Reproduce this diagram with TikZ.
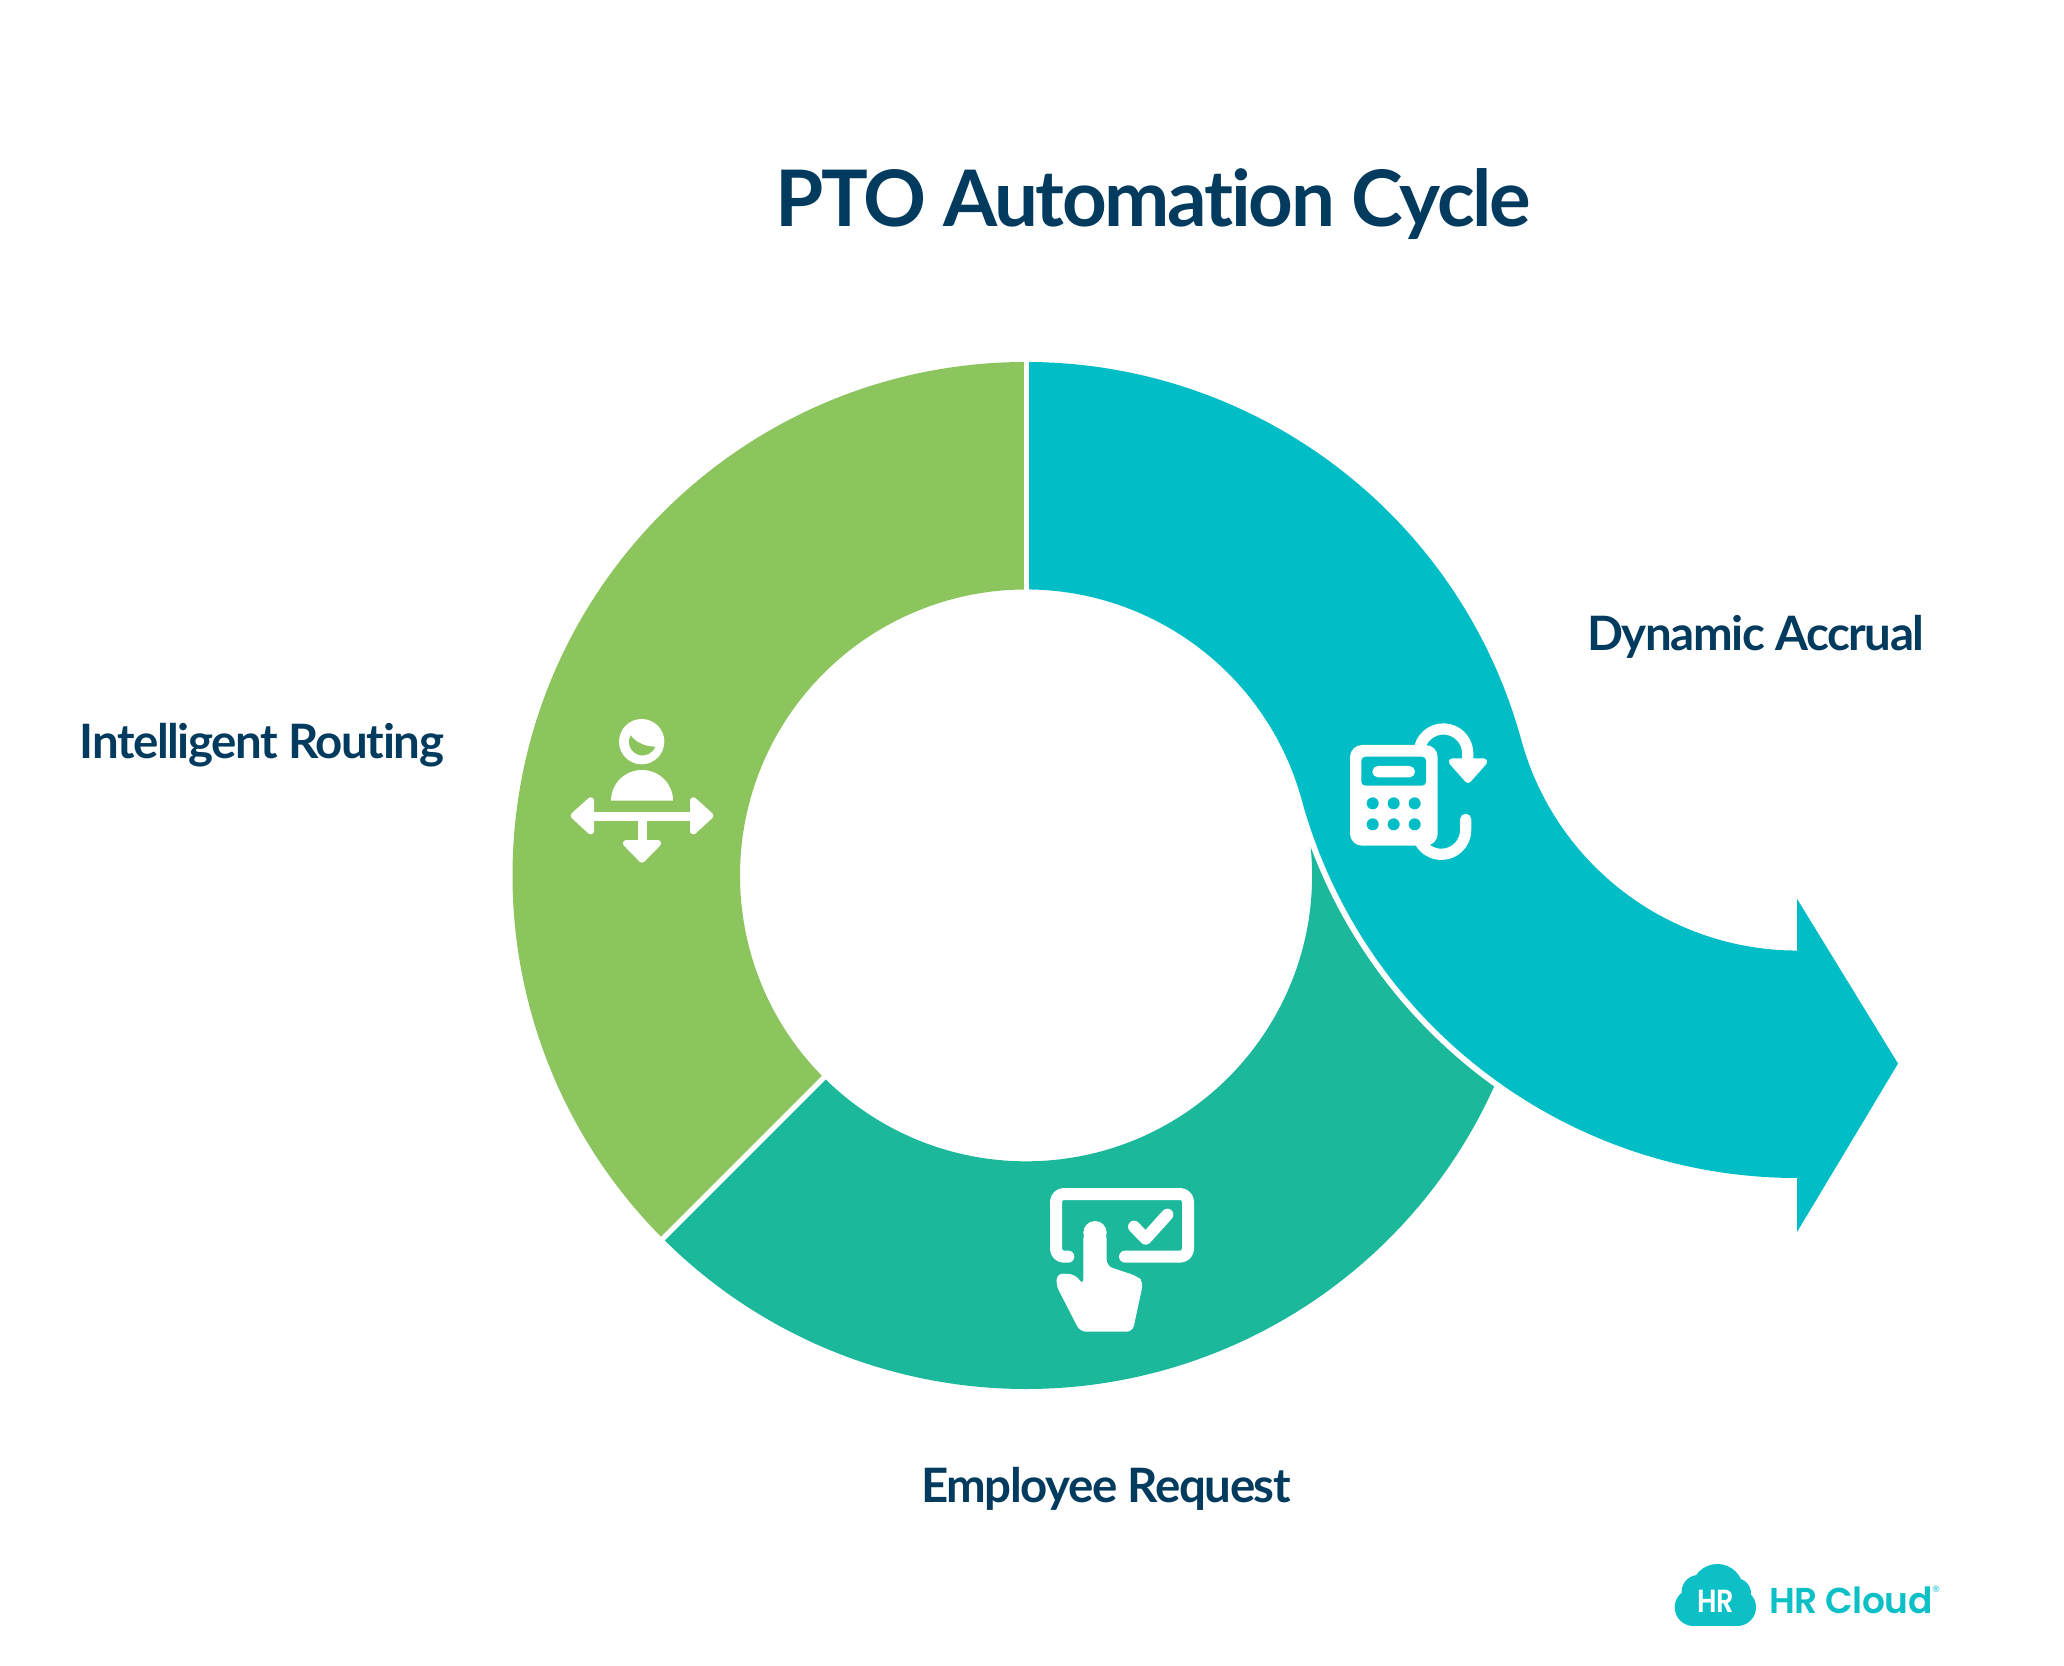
\documentclass[tikz,border=0pt]{standalone}
\usepackage{fontspec}
\usetikzlibrary{calc}
\setmainfont[Ligatures=NoCommon]{Lato}
\newfontfamily\titlefont[Ligatures=NoCommon,LetterSpace=-3]{Lato}
\newfontfamily\labelfont[Ligatures=NoCommon,LetterSpace=-3]{Lato}
\newfontfamily\logofont[LetterSpace=-1.5]{Poppins SemiBold}
\definecolor{navy}{HTML}{033B5F}
\definecolor{cyanseg}{HTML}{01BDC5}
\definecolor{greenseg}{HTML}{8CC55E}
\definecolor{tealseg}{HTML}{1CB89C}
\definecolor{logocol}{HTML}{0CC0C6}
\tikzset{
  titletext/.style={text=navy,font=\titlefont\fontsize{39}{44}\selectfont\bfseries,inner sep=0pt},
  labeltext/.style={text=navy,font=\labelfont\fontsize{23.7}{28}\selectfont\bfseries,inner sep=0pt},
  iconfill/.style={fill=white,draw=white,line join=round,line width=3.33pt},
  iconline/.style={draw=white,line cap=round,line join=round},
  gapline/.style={draw=white,line width=2.5pt},
}
\begin{document}
\begin{tikzpicture}[x=0.5pt,y=0.5pt]
\useasboundingbox (0,0) rectangle (2064,1665);
\fill[white] (0,0) rectangle (2064,1665);
% geometry: ring centre C, second bend centre Q
\coordinate (C) at (1026,789.5);
\coordinate (Q) at (1797,1000.3);
% green segment
\fill[greenseg] ($(C)+(90:513.5)$) arc[start angle=90,end angle=225,radius=513.5]
  -- ($(C)+(225:286)$) arc[start angle=225,end angle=90,radius=286] -- cycle;
% teal segment
\fill[tealseg] ($(C)+(225:513.5)$) arc[start angle=225,end angle=335.73,radius=513.5]
  arc[start angle=234.33,end angle=200.57,radius=519.5]
  arc[start angle=5.68,end angle=-135,radius=286] -- cycle;
\draw[gapline] ($(C)+(225:280)$) -- ($(C)+(225:520)$);
% cyan arrow
\fill[cyanseg] ($(C)+(90:513.5)$) arc[start angle=90,end angle=15.3,radius=513.5]
  arc[start angle=195.3,end angle=270,radius=286]
  -- ++(0,51.5) -- (1898,601.4) -- (1797,433) -- (1797,487)
  arc[start angle=270,end angle=195.3,radius=513.5]
  arc[start angle=15.3,end angle=90,radius=286] -- cycle;
\draw[gapline] ($(C)+(90:280)$) -- ($(C)+(90:520)$);
% calculator icon
\begin{scope}[shift={(1300,965)},x=0.16667pt,y=-0.16667pt]
  \fill[white,rounded corners=6pt] (150,135) rectangle (413,437);
  \fill[cyanseg,rounded corners=2pt] (184,257) -- (184,170) -- (378,170) -- (378,257) -- cycle;
  \fill[white,rounded corners=2.8pt] (217,198) rectangle (345,232);
  \foreach \px in {218,281,344}\foreach \py in {310,373}
    \fill[cyanseg] (\px,\py) circle[radius=18];
  \draw[iconline,line width=5.6pt,line cap=butt] (359.5,141) arc[start angle=195,end angle=360,radius=73] -- (503,190);
  \fill[iconfill] (456,185) -- (552,185) -- (504,239) -- cycle;
  \draw[iconline,line width=5.6pt] (497,358) -- (497,390) arc[start angle=0,end angle=150,radius=73];
\end{scope}
% person icon
\begin{scope}[shift={(550,965)},x=0.16667pt,y=-0.16667pt]
  \fill[white] (275,125) circle[radius=68];
  \fill[greenseg] (240,104) .. controls (258,128) and (285,140) .. (316,140)
     arc[start angle=21,end angle=210,radius=41] -- cycle;
  \fill[white] (183,302) arc[x radius=93,y radius=92,start angle=180,end angle=360] -- cycle;
  \fill[white] (130,335) rectangle (422,362);
  \fill[white] (263,362) rectangle (290,425);
  \fill[iconfill] (122,302) -- (122,393) -- (72,347) -- cycle;
  \fill[iconfill] (430,302) -- (430,393) -- (480,347) -- cycle;
  \fill[iconfill] (229,430) -- (323,430) -- (276,478) -- cycle;
\end{scope}
% touch icon
\begin{scope}[shift={(1030,495)},x=0.16667pt,y=-0.16667pt]
  \draw[iconline,line width=6pt,rounded corners=4pt] (115,260) -- (78,260) -- (78,72) -- (474,72) -- (474,260) -- (285,260);
  \draw[iconline,line width=6pt] (312,170) -- (347,206) -- (412,134);
  \fill[white,rounded corners=3pt] (160,188) -- (160,345) -- (135,313) -- (82,310) -- (78,345) -- (150,485) -- (308,485) -- (340,335) -- (320,318) -- (230,288) -- (230,188) -- cycle;
  \fill[white] (195,188) circle[radius=35];
\end{scope}
% logo
\begin{scope}[shift={(1660,115)},x=0.16667pt,y=-0.16667pt]
  \fill[logocol] (172,120) circle[radius=78];
  \fill[logocol] (115,125) circle[radius=50];
  \fill[logocol] (228,130) circle[radius=45];
  \fill[logocol] (100,172) circle[radius=56];
  \fill[logocol] (232,172) circle[radius=56];
  \fill[logocol] (100,150) rectangle (232,228);
\end{scope}
\node[text=white,font=\logofont\fontsize{16}{18}\selectfont,inner sep=0pt,xscale=.85] (hrmark) at (1716,64) {HR};
\node[text=logocol,font=\logofont\fontsize{18}{20}\selectfont,inner sep=0pt,anchor=west] (hrcloud) at (1769,65) {HR Cloud};
\node[text=logocol,font=\fontsize{4.5}{5}\selectfont,inner sep=0pt] (reg) at (1936,76) {®};
% texts
\node[titletext] (title) at (1153,1461) {PTO Automation Cycle};
\node[labeltext] (accrual) at (1756,1028) {Dynamic Accrual};
\node[labeltext] (routing) at (262,920) {Intelligent Routing};
\node[labeltext] (request) at (1106,176) {Employee Request};
\end{tikzpicture}
\end{document}
